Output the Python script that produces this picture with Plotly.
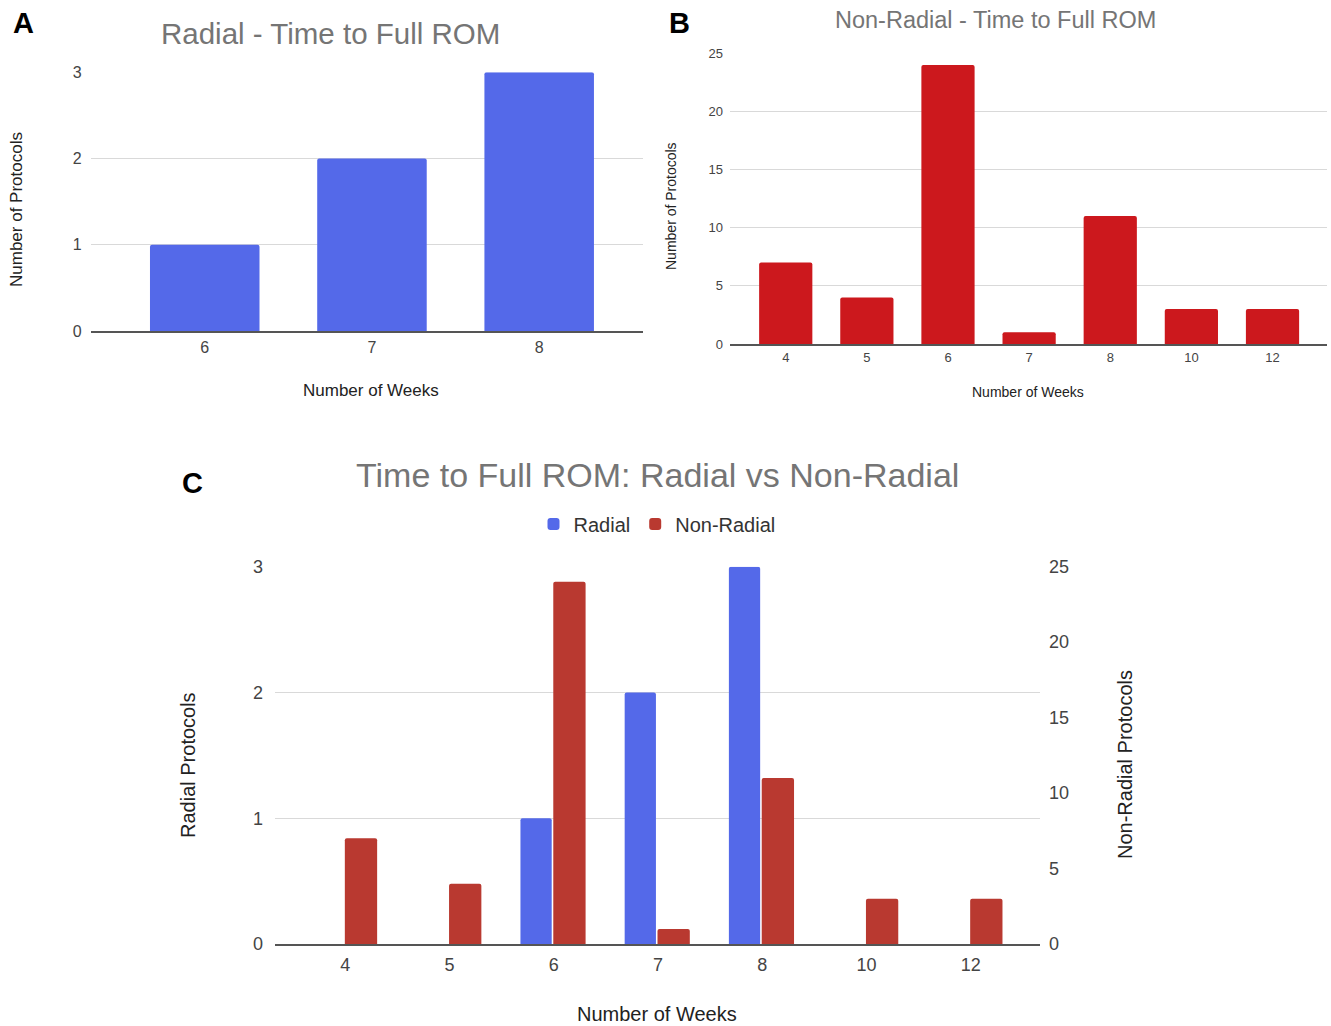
import plotly.graph_objects as go

# ---- data ----
radial_weeks = ["6", "7", "8"]
radial_counts = [1, 2, 3]
nonradial_weeks = ["4", "5", "6", "7", "8", "10", "12"]
nonradial_counts = [7, 4, 24, 1, 11, 3, 3]

W, H = 1331, 1026
FONT = "Liberation Sans, Arial, sans-serif"
BLUE = "#5469E9"
RED_B = "#CC181D"
RED_C = "#B93930"
TITLE_C = "#757575"
TICK_C = "#444444"
AXT_C = "#222222"
GRID_C = "#D9D9D9"
BASE_C = "#555555"


def px_x(x):
    return x / W


def px_y(y):
    return 1 - y / H


fig = go.Figure()

# Panel A
fig.add_trace(go.Bar(x=radial_weeks, y=radial_counts, marker_color=BLUE, width=0.655,
                     xaxis="x", yaxis="y", showlegend=False))
# Panel B
fig.add_trace(go.Bar(x=nonradial_weeks, y=nonradial_counts, marker_color=RED_B, width=0.656,
                     xaxis="x2", yaxis="y2", showlegend=False))
# Panel C
fig.add_trace(go.Bar(x=radial_weeks, y=radial_counts, marker_color=BLUE, name="Radial",
                     width=0.30, offset=-0.32, xaxis="x3", yaxis="y3"))
fig.add_trace(go.Bar(x=nonradial_weeks, y=nonradial_counts, marker_color=RED_C, name="Non-Radial",
                     width=0.31, offset=-0.005, xaxis="x3", yaxis="y4"))


def xax(domain, rng, cats, size, standoff):
    return dict(domain=domain, range=rng, type="category", categoryorder="array",
                categoryarray=cats, showgrid=False, zeroline=False, showline=True,
                linecolor=BASE_C, linewidth=2, ticks="", ticklabelstandoff=standoff,
                tickfont=dict(family=FONT, size=size, color=TICK_C), fixedrange=True)


def yax(domain, rng, dtick, size, standoff, **kw):
    d = dict(domain=domain, range=rng, dtick=dtick, tick0=0, showgrid=True, gridcolor=GRID_C,
             gridwidth=1, zeroline=False, showline=False, ticks="", ticklabelstandoff=standoff,
             tickfont=dict(family=FONT, size=size, color=TICK_C), fixedrange=True)
    d.update(kw)
    return d


fig.update_layout(
    width=W, height=H,
    margin=dict(l=0, r=0, t=0, b=0),
    template="none",
    paper_bgcolor="white", plot_bgcolor="white",
    barmode="overlay",
    barcornerradius=2,
    font=dict(family=FONT, color=AXT_C),
    xaxis=xax([px_x(90.7), px_x(642.7)], [-0.682, 2.619], radial_weeks, 16, 1),
    yaxis=yax([px_y(331), px_y(72.3)], [0, 3], 1, 16, 8, anchor="x"),
    xaxis2=xax([px_x(730), px_x(1326.7)], [-0.687, 6.668], nonradial_weeks, 13, 0),
    yaxis2=yax([px_y(344), px_y(53.3)], [0, 25], 5, 13, 6, anchor="x2"),
    xaxis3=xax([px_x(275), px_x(1040)], [-0.675, 6.665], nonradial_weeks, 18, 3),
    yaxis3=yax([px_y(944), px_y(566.7)], [0, 3], 1, 18, 11, anchor="x3"),
    yaxis4=yax([px_y(944), px_y(566.7)], [0, 25], 5, 18, 8, anchor="x3",
               overlaying="y3", side="right", showgrid=False),
    legend=dict(orientation="h", x=px_x(657), y=px_y(524), xanchor="center", yanchor="middle",
                font=dict(family=FONT, size=20, color="#333333"), bgcolor="rgba(0,0,0,0)",
                itemclick=False, itemdoubleclick=False),
)
fig.layout.xaxis.anchor = "y"
fig.layout.xaxis2.anchor = "y2"
fig.layout.xaxis3.anchor = "y3"


def ann(text, x, y, size, color, angle=0, bold=False):
    fig.add_annotation(text=f"<b>{text}</b>" if bold else text, x=px_x(x), y=px_y(y),
                       xref="paper", yref="paper", xanchor="center", yanchor="middle",
                       showarrow=False, textangle=angle,
                       font=dict(family=FONT, size=size, color=color))


# panel letters
ann("A", 23, 23, 29, "black", bold=True)
ann("B", 679, 23, 29, "black", bold=True)
ann("C", 192, 483, 29, "black", bold=True)
# titles
ann("Radial - Time to Full ROM", 330, 33, 29.5, TITLE_C)
ann("Non-Radial - Time to Full ROM", 995, 20, 23.5, TITLE_C)
ann("Time to Full ROM: Radial vs Non-Radial", 657, 475, 34, TITLE_C)
# axis titles
ann("Number of Protocols", 16, 210, 17, AXT_C, angle=-90)
ann("Number of Weeks", 371, 391, 17, AXT_C)
ann("Number of Protocols", 671, 206, 14, AXT_C, angle=-90)
ann("Number of Weeks", 1028, 392, 14, AXT_C)
ann("Radial Protocols", 188, 765, 20, AXT_C, angle=-90)
ann("Non-Radial Protocols", 1125, 765, 20, AXT_C, angle=-90)
ann("Number of Weeks", 657, 1014, 20, AXT_C)

fig.write_html("out.html", config={"displayModeBar": False},
               post_script="document.body.style.margin='0';document.body.style.overflow='hidden';")
